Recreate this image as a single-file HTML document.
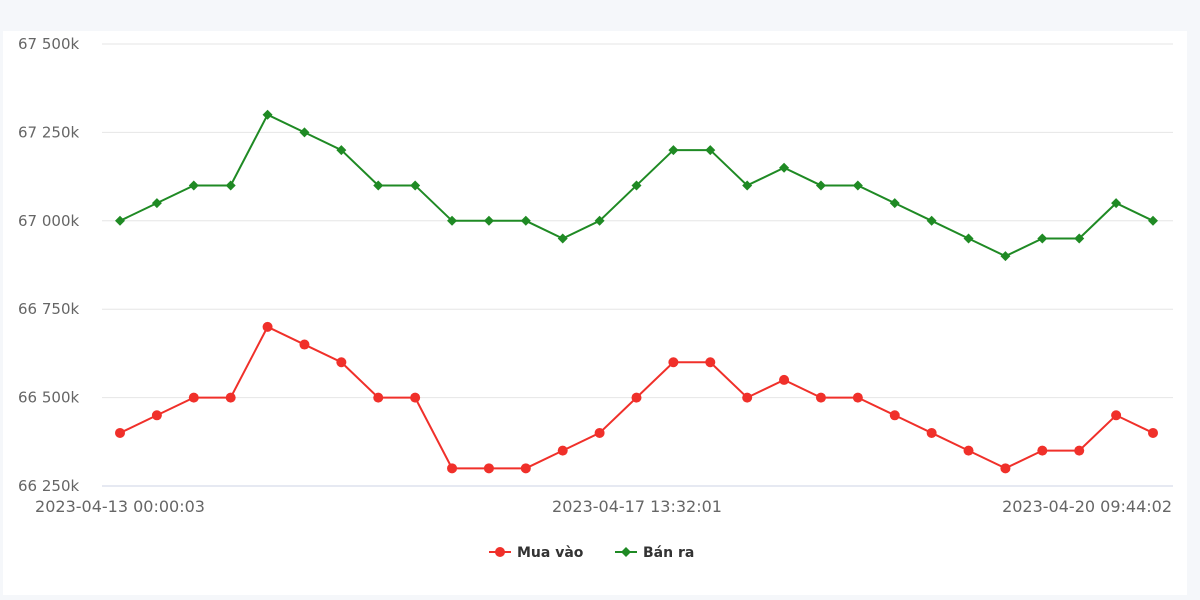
<!DOCTYPE html>
<html><head><meta charset="utf-8"><style>
html,body{margin:0;padding:0;background:#f5f7fa;width:1200px;height:600px;overflow:hidden}
</style></head><body>
<div style="position:absolute;left:3px;top:31px;width:1184px;height:564px;background:#fff"></div>
<svg id="s" width="1200" height="600" style="position:absolute;left:0;top:0" font-family="DejaVu Sans, Liberation Sans, sans-serif"></svg>
<script>
const s=document.getElementById('s');let h='';
const y=v=>44+(67500-v)/250*88.4;
const ticks=[67500,67250,67000,66750,66500,66250];
ticks.forEach((t,i)=>{const yy=y(t);
h+=`<line x1="102" x2="1173" y1="${yy}" y2="${yy}" stroke="${i==5?'#ccd3e6':'#e6e6e6'}" stroke-width="1"/>`;
h+=`<text x="18" y="${yy+5}" font-size="15" fill="#666">${String(t).slice(0,2)} ${String(t).slice(2)}k</text>`;});
const g=[67000,67050,67100,67100,67300,67250,67200,67100,67100,67000,67000,67000,66950,67000,67100,67200,67200,67100,67150,67100,67100,67050,67000,66950,66900,66950,66950,67050,67000];
const r=[66400,66450,66500,66500,66700,66650,66600,66500,66500,66300,66300,66300,66350,66400,66500,66600,66600,66500,66550,66500,66500,66450,66400,66350,66300,66350,66350,66450,66400];
const x=i=>120+i*(1153-120)/28;
const line=(d,c)=>`<polyline fill="none" stroke="${c}" stroke-width="2" points="${d.map((v,i)=>x(i)+','+y(v)).join(' ')}"/>`;
h+=line(g,'#1f8a24')+line(r,'#f0302a');
g.forEach((v,i)=>{const X=x(i),Y=y(v);h+=`<polygon points="${X},${Y-5} ${X+5},${Y} ${X},${Y+5} ${X-5},${Y}" fill="#1f8a24"/>`;});
r.forEach((v,i)=>{h+=`<circle cx="${x(i)}" cy="${y(v)}" r="5" fill="#f0302a"/>`;});
h+=`<text x="120" y="512" font-size="16" fill="#666" text-anchor="middle">2023-04-13 00:00:03</text>`;
h+=`<text x="637" y="512" font-size="16" fill="#666" text-anchor="middle">2023-04-17 13:32:01</text>`;
h+=`<text x="1172" y="512" font-size="16" fill="#666" text-anchor="end">2023-04-20 09:44:02</text>`;
h+=`<line x1="489" x2="511" y1="552" y2="552" stroke="#f0302a" stroke-width="2"/><circle cx="500" cy="552" r="5" fill="#f0302a"/>`;
h+=`<text x="517" y="557" font-size="14" font-weight="bold" fill="#333">Mua vào</text>`;
h+=`<line x1="615" x2="637" y1="552" y2="552" stroke="#1f8a24" stroke-width="2"/><polygon points="626,547 631,552 626,557 621,552" fill="#1f8a24"/>`;
h+=`<text x="643" y="557" font-size="14" font-weight="bold" fill="#333">Bán ra</text>`;
s.innerHTML=h;
</script>
</body></html>
